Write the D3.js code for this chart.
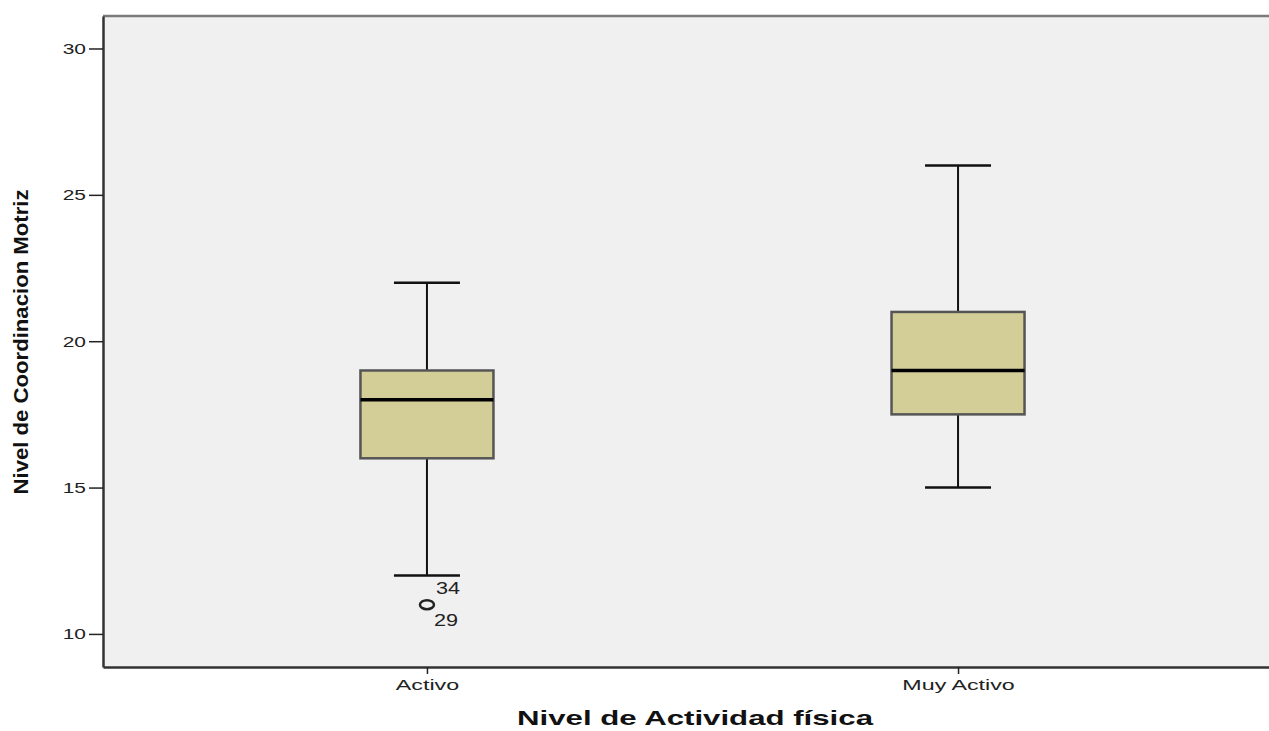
<!DOCTYPE html>
<html><head><meta charset="utf-8">
<script src="https://cdn.jsdelivr.net/npm/d3@7"></script>
<style>body{margin:0;background:#fff;overflow:hidden}</style>
</head><body>
<svg id="c" width="1269" height="731"></svg>
<script>
const categories = ["Activo", "Muy Activo"];
const whiskerLow = [12, 15];
const q1 = [16, 17.5];
const median = [18, 19];
const q3 = [19, 21];
const whiskerHigh = [22, 26];
const outliers = [{cat: "Activo", value: 11, labels: ["34", "29"]}];
const yTicks = [10, 15, 20, 25, 30];

const FONT = "Liberation Sans, Arial, sans-serif";
const svg = d3.select("#c");
const L = 103, T = 16, B = 667, R = 1282;
const y = d3.scaleLinear().domain([8.87, 31.11]).range([B, T]);
const x = d3.scalePoint().domain(categories).range([L, R]).padding(0.61);

function widen(sel, f) {
  sel.each(function() {
    const n = this.getComputedTextLength();
    d3.select(this).attr("textLength", n * f).attr("lengthAdjust", "spacingAndGlyphs");
  });
}

svg.append("rect").attr("x", L).attr("y", T).attr("width", R - L).attr("height", B - T)
  .attr("fill", "#f0f0f0");
svg.append("line").attr("x1", L).attr("x2", R).attr("y1", T).attr("y2", T).attr("stroke", "#7a7a7a").attr("stroke-width", 2.5);

const yAxis = svg.append("g").attr("transform", `translate(${L},0)`)
  .call(d3.axisLeft(y).tickValues(yTicks).tickSize(14).tickSizeOuter(0).tickPadding(3));
yAxis.select(".domain").attr("stroke", "#333").attr("stroke-width", 2.5);
yAxis.selectAll(".tick line").attr("stroke", "#222").attr("stroke-width", 1.5);
yAxis.selectAll("text").attr("font-family", FONT).attr("font-size", 15.5).attr("fill", "#222").call(widen, 1.35);

const xAxis = svg.append("g").attr("transform", `translate(0,${B})`)
  .call(d3.axisBottom(x).tickSize(7).tickSizeOuter(0).tickPadding(5));
xAxis.select(".domain").attr("stroke", "#333").attr("stroke-width", 2.5);
xAxis.selectAll(".tick line").attr("stroke", "#222").attr("stroke-width", 1.5);
xAxis.selectAll("text").attr("font-family", FONT).attr("font-size", 15.5).attr("fill", "#222").call(widen, 1.5);

const bw = 133, cw = 66;
categories.forEach((c, i) => {
  const cx = x(c);
  const g = svg.append("g");
  g.append("line").attr("x1", cx).attr("x2", cx).attr("y1", y(whiskerHigh[i])).attr("y2", y(q3[i])).attr("stroke", "#111").attr("stroke-width", 2);
  g.append("line").attr("x1", cx).attr("x2", cx).attr("y1", y(q1[i])).attr("y2", y(whiskerLow[i])).attr("stroke", "#111").attr("stroke-width", 2);
  g.append("line").attr("x1", cx - cw/2).attr("x2", cx + cw/2).attr("y1", y(whiskerHigh[i])).attr("y2", y(whiskerHigh[i])).attr("stroke", "#111").attr("stroke-width", 2.5);
  g.append("line").attr("x1", cx - cw/2).attr("x2", cx + cw/2).attr("y1", y(whiskerLow[i])).attr("y2", y(whiskerLow[i])).attr("stroke", "#111").attr("stroke-width", 2.5);
  g.append("rect").attr("x", cx - bw/2).attr("y", y(q3[i])).attr("width", bw).attr("height", y(q1[i]) - y(q3[i]))
    .attr("fill", "#d3ce97").attr("stroke", "#555").attr("stroke-width", 2.5);
  g.append("line").attr("x1", cx - bw/2).attr("x2", cx + bw/2).attr("y1", y(median[i])).attr("y2", y(median[i])).attr("stroke", "#000").attr("stroke-width", 3.5);
});

outliers.forEach(o => {
  const cx = x(o.cat), cy = y(o.value);
  svg.append("ellipse").attr("cx", cx).attr("cy", cy).attr("rx", 7).attr("ry", 4.5).attr("fill", "none").attr("stroke", "#222").attr("stroke-width", 2.5);
  svg.append("text").attr("x", cx + 9).attr("y", cy - 11).text(o.labels[0])
    .attr("font-family", FONT).attr("font-size", 16).attr("fill", "#222").call(widen, 1.35);
  svg.append("text").attr("x", cx + 7).attr("y", cy + 21).text(o.labels[1])
    .attr("font-family", FONT).attr("font-size", 16).attr("fill", "#222").call(widen, 1.35);
});

svg.append("text").attr("x", 695).attr("y", 725).attr("text-anchor", "middle")
  .attr("font-family", FONT).attr("font-weight", "bold").attr("font-size", 20.5)
  .attr("fill", "#111").text("Nivel de Actividad física")
  .attr("textLength", 356).attr("lengthAdjust", "spacingAndGlyphs");

svg.append("text").attr("transform", "translate(28,342) rotate(-90)").attr("text-anchor", "middle")
  .attr("font-family", FONT).attr("font-weight", "bold").attr("font-size", 21)
  .attr("fill", "#111").text("Nivel de Coordinacion Motriz")
  .attr("textLength", 305).attr("lengthAdjust", "spacingAndGlyphs");
</script>
</body></html>
